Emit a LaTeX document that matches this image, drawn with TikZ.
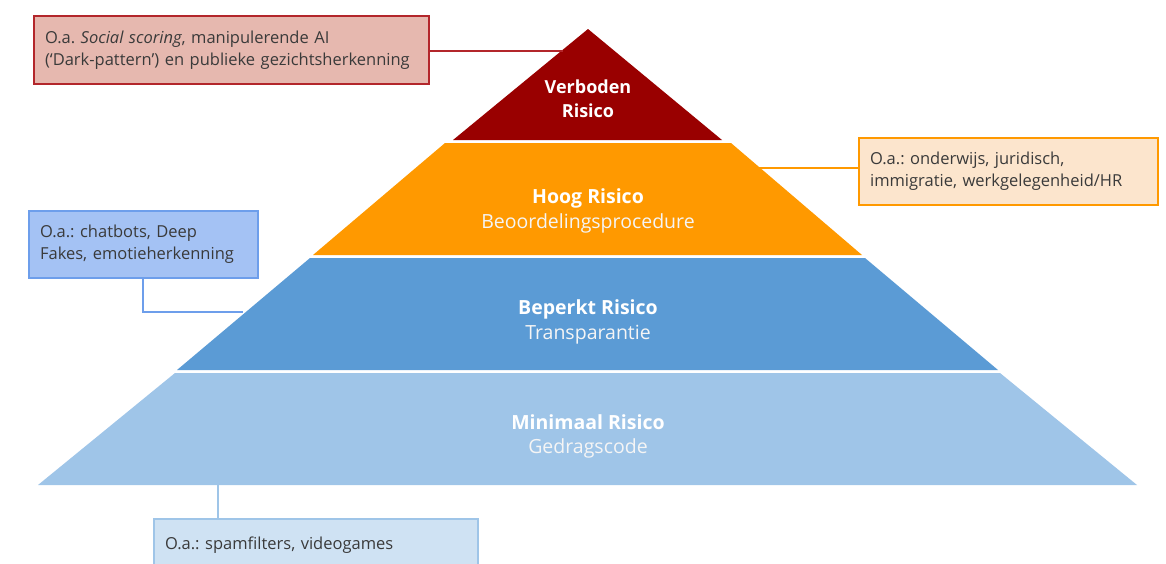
\documentclass[tikz,border=0pt]{standalone}
\usepackage{fontspec}
\setmainfont{Open Sans}
\usepackage{xcolor}
\usetikzlibrary{positioning}
\frenchspacing

\definecolor{verboden}{HTML}{990000}
\definecolor{hoog}{HTML}{FF9900}
\definecolor{beperkt}{HTML}{5B9BD5}
\definecolor{minimaal}{HTML}{9FC5E8}
\definecolor{redbox}{HTML}{E6B8AF}
\definecolor{redline}{HTML}{B3262B}
\definecolor{orangebox}{HTML}{FCE5CD}
\definecolor{bluebox}{HTML}{A4C2F4}
\definecolor{blueline}{HTML}{6D9EEB}
\definecolor{lightbox}{HTML}{CFE2F3}
\definecolor{notetext}{HTML}{3A3A3A}

\tikzset{
  bandtitle/.style={text=white, font=\fontsize{19.5}{22}\selectfont\bfseries},
  bandsub/.style={text=white!92!gray, font=\fontsize{19.5}{22}\selectfont},
  notebox/.style={draw, line width=2.2pt, anchor=north west, align=left,
    inner xsep=11pt, inner ysep=0pt, text=notetext,
    font=\fontsize{16.5}{22}\selectfont},
  link/.style={line width=2.6pt}
}

\begin{document}
\begin{tikzpicture}[x=1pt,y=-1pt]
    \useasboundingbox (0,0) rectangle (1166,563);
    \clip (0,0) rectangle (1166,563);

    % pyramid bands
    \fill[verboden] (588,29) -- (722,140) -- (453,140) -- cycle;
    \fill[hoog] (445,143) -- (731,143) -- (862,255) -- (313,255) -- cycle;
    \fill[beperkt] (310,258) -- (865,258) -- (998,370) -- (177,370) -- cycle;
    \fill[minimaal] (175,373) -- (1000,373) -- (1137,485) -- (38,485) -- cycle;

    \node[bandtitle, font=\fontsize{18}{20}\selectfont\bfseries] (verb1) at (588,87) {Verboden};
    \node[bandtitle, font=\fontsize{18}{20}\selectfont\bfseries] (verb2) at (588,111) {Risico};
    \node[bandtitle] (hoog1) at (588,198) {Hoog Risico};
    \node[bandsub] (hoog2) at (588,223) {Beoordelingsprocedure};
    \node[bandtitle] (bep1) at (588,309) {Beperkt Risico};
    \node[bandsub] (bep2) at (588,335) {Transparantie};
    \node[bandtitle] (min1) at (588,422) {Minimaal Risico};
    \node[bandsub] (min2) at (588,448) {Gedragscode};

    % edge points
    \coordinate (pverb) at (563,51);
    \coordinate (phoog) at (752,168);
    \coordinate (pbep) at (243,312);
    \coordinate (pmin) at (218,485);

    % notes
    \node[notebox, draw=redline, fill=redbox, minimum width=395pt, minimum height=68pt,
      text width=373pt] (nverb) at (33,15)
      {O.a. \textit{Social scoring}, manipulerende AI\\(`Dark-pattern') en publieke gezichtsherkenning};
    \node[notebox, draw=hoog, fill=orangebox, minimum width=299pt, minimum height=67pt,
      text width=277pt] (nhoog) at (858,137)
      {O.a.: onderwijs, juridisch,\\immigratie, werkgelegenheid/HR};
    \node[notebox, draw=blueline, fill=bluebox, minimum width=229pt, minimum height=67pt,
      text width=207pt] (nbep) at (28,210)
      {O.a.: chatbots, Deep\\Fakes, emotieherkenning};
    \node[notebox, draw=minimaal, fill=lightbox, minimum width=324pt, minimum height=52pt,
      text width=302pt] (nmin) at (153,518)
      {O.a.: spamfilters, videogames};

    % connectors
    \draw[link, redline] (nverb.east |- pverb) -- (pverb);
    \draw[link, hoog] (nhoog.west |- phoog) -- (phoog);
    \draw[link, blueline] (nbep.south -| 143,0) |- (pbep);
    \draw[link, minimaal] (pmin) -- (pmin |- nmin.north);
\end{tikzpicture}
\end{document}
